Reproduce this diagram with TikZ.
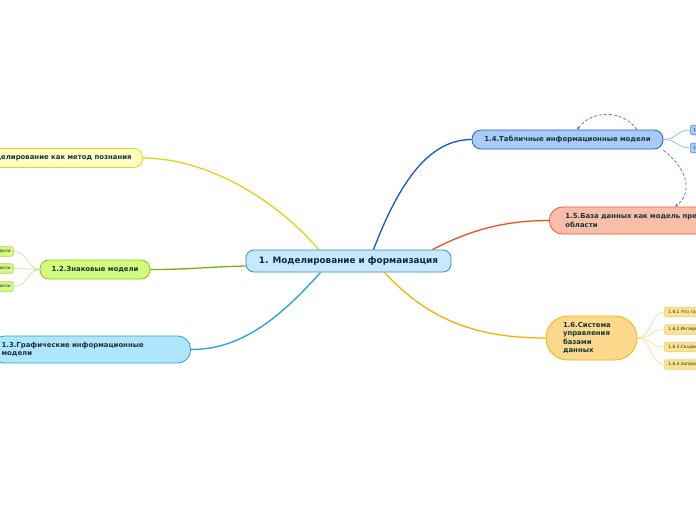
\documentclass[tikz,border=0pt]{standalone}
\usepackage{fontspec}
\setmainfont{DejaVu Sans}
\usetikzlibrary{calc,arrows.meta,backgrounds}
\definecolor{txt}{HTML}{15353A}
\definecolor{ctxt}{HTML}{0B2A4A}
\definecolor{cfill}{HTML}{C6EAFC}\definecolor{cdraw}{HTML}{3A8CC9}
\definecolor{yfill}{HTML}{FFFFC4}\definecolor{ydraw}{HTML}{E8D716}\definecolor{yline}{HTML}{E5D01C}
\definecolor{gfill}{HTML}{D3FB7C}\definecolor{gdraw}{HTML}{8FC21F}\definecolor{gline}{HTML}{7CAD10}
\definecolor{gsfill}{HTML}{D8FB84}\definecolor{gsdraw}{HTML}{A9D84A}\definecolor{gsline}{HTML}{C8EC90}
\definecolor{bfill}{HTML}{B0E6FB}\definecolor{bdraw}{HTML}{29A3E0}\definecolor{bline}{HTML}{1FA1E6}
\definecolor{dfill}{HTML}{A9CBF8}\definecolor{ddraw}{HTML}{1B5EC9}\definecolor{dline}{HTML}{1159C9}
\definecolor{dsdraw}{HTML}{5B8DE0}\definecolor{dsline}{HTML}{8FB4F0}
\definecolor{rfill}{HTML}{F9BEA9}\definecolor{rdraw}{HTML}{F2562A}\definecolor{rline}{HTML}{F3501C}
\definecolor{ofill}{HTML}{FCD98C}\definecolor{odraw}{HTML}{F5B400}\definecolor{oline}{HTML}{FBB000}
\definecolor{osfill}{HTML}{FDE291}\definecolor{osdraw}{HTML}{F8CD6A}\definecolor{osline}{HTML}{FDDFA0}
\definecolor{dashc}{HTML}{4A6CF0}
\begin{document}
\begin{tikzpicture}[x=1pt,y=-1pt,
  topic/.style={draw, line width=0.8pt, text=txt, inner ysep=0pt,
    font=\bfseries\fontsize{6.9}{8.4}\selectfont},
  sub/.style={draw, line width=0.6pt, rounded corners=2pt, text=txt, inner sep=0pt,
    minimum height=9.5pt, font=\fontsize{4.4}{5}\selectfont},
  mainline/.style={line width=1.3pt},
  thinline/.style={line width=0.7pt},
  dashy/.style={draw=dashc, densely dashed, line width=0.7pt, -{Stealth[length=3.5pt,width=3pt]}}]
\useasboundingbox (0,0) rectangle (696,520);
\clip (0,0) rectangle (696,520);

% central
\node[topic, draw=cdraw, fill=cfill, text=ctxt, rounded corners=8pt,
  minimum width=205pt, minimum height=22pt, font=\bfseries\fontsize{8.85}{10}\selectfont]
  (c) at (348.5,261) {1. Моделирование и формаизация};

% 1.1
\node[topic, draw=ydraw, fill=yfill, rounded corners=9pt, anchor=east,
  minimum height=19pt, inner xsep=11pt] (n11) at (143,158) {1.1.Моделирование как метод познания};
% 1.2
\node[topic, draw=gdraw, fill=gfill, rounded corners=9pt,
  minimum width=110pt, minimum height=19pt] (n12) at (95,269.5) {1.2.Знаковые модели};
% 1.3
\node[topic, draw=bdraw, fill=bfill, rounded corners=13pt, anchor=east, align=left,
  text width=179pt, inner xsep=10pt, minimum height=27pt] (n13) at (191,349.5)
  {1.3.Графические информационные\\модели};
% 1.4
\node[topic, draw=ddraw, fill=dfill, rounded corners=9pt,
  minimum width=191pt, minimum height=19pt] (n14) at (567.5,139.5) {1.4.Табличные информационные модели};
% 1.5
\node[topic, draw=rdraw, fill=rfill, rounded corners=13pt, anchor=west, align=left,
  text width=200pt, inner xsep=16pt, minimum height=27pt] (n15) at (549,220.5)
  {1.5.База данных как модель предметной\\области};
% 1.6
\node[topic, draw=odraw, fill=ofill, rounded corners=22pt, align=left,
  text width=57pt, inner xsep=17pt, minimum height=44pt] (n16) at (591.5,338)
  {1.6.Система\\управления\\базами\\данных};

% 1.2 children
\node[sub, draw=gsdraw, fill=gsfill, anchor=east, minimum width=30pt, text width=25pt, align=right] (g1) at (13.5,251.5) {модели};
\node[sub, draw=gsdraw, fill=gsfill, anchor=east, minimum width=30pt, text width=25pt, align=right] (g2) at (13.5,268.5) {модели};
\node[sub, draw=gsdraw, fill=gsfill, anchor=east, minimum width=30pt, text width=25pt, align=right] (g3) at (13.5,286.5) {модели};
% 1.4 children
\node[sub, draw=dsdraw, fill=dfill, anchor=west, minimum width=30pt, text width=24pt, align=left] (d1) at (690,130) {1.4.1.};
\node[sub, draw=dsdraw, fill=dfill, anchor=west, minimum width=30pt, text width=24pt, align=left] (d2) at (690,148) {1.4.2.};
% 1.6 children
\node[sub, draw=osdraw, fill=osfill, anchor=west, minimum width=60pt, text width=52pt, align=left] (o1) at (664,312) {1.6.1.Что такое СУБД};
\node[sub, draw=osdraw, fill=osfill, anchor=west, minimum width=60pt, text width=52pt, align=left] (o2) at (664,329.5) {1.6.2.Интерфейс};
\node[sub, draw=osdraw, fill=osfill, anchor=west, minimum width=60pt, text width=52pt, align=left] (o3) at (664,347) {1.6.3.Создание};
\node[sub, draw=osdraw, fill=osfill, anchor=west, minimum width=60pt, text width=52pt, align=left] (o4) at (664,364.5) {1.6.4.Запросы};

\begin{scope}[on background layer]
\fill[white] (0,0) rectangle (696,520);
\draw[mainline, yline] ([xshift=-30pt]c.north) .. controls (275,198) and (205,158) .. (n11.east);
\draw[mainline, gline] ([yshift=-5pt]c.west) .. controls (205,267) and (190,269.5) .. (n12.east);
\draw[mainline, bline] ([xshift=-28pt]c.south) .. controls (278,320) and (240,349.5) .. (n13.east);
\draw[mainline, dline] ([xshift=25pt]c.north) .. controls (400,180) and (430,139.5) .. (n14.west);
\draw[mainline, rline] ([xshift=84pt]c.north) .. controls (470,230) and (505,220.5) .. (n15.west);
\draw[mainline, oline] ([xshift=36pt]c.south) .. controls (430,322) and (480,338) .. (n16.west);
\foreach \g in {g1,g2,g3}
  \draw[thinline, gsline] (n12.west) .. controls (28,269.5) and (28,0|-\g.east) .. (\g.east);
\foreach \d in {d1,d2}
  \draw[thinline, dsline] (n14.east) .. controls (677,139.5) and (677,0|-\d.west) .. (\d.west);
\foreach \o in {o1,o2,o3,o4}
  \draw[thinline, osline] (n16.east) .. controls (651,338) and (651,0|-\o.west) .. (\o.west);
\end{scope}

% dashed relations
\draw[dashy] ([xshift=69.5pt]n14.north) .. controls (622,109) and (592,110) .. ([xshift=9.5pt]n14.north);
\draw[dashy] ([yshift=-1pt]n14.south east) .. controls (692,172) and (690,196) .. ([xshift=126pt]n15.north west);
\end{tikzpicture}
\end{document}
